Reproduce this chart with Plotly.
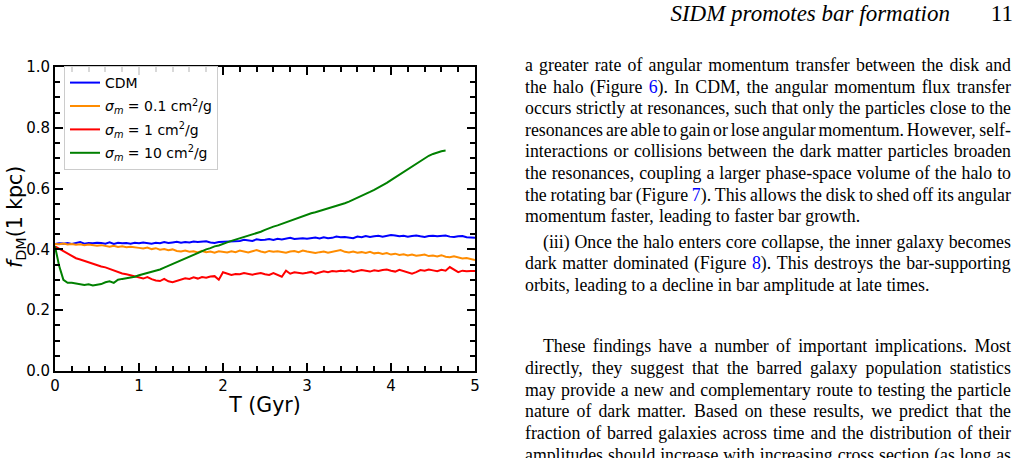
import plotly.graph_objects as go

# ---------------- data ----------------
step = 0.05
cdm = [0.418,0.420,0.419,0.421,0.418,0.422,0.424,0.419,0.421,0.420,
       0.422,0.421,0.419,0.423,0.418,0.422,0.420,0.421,0.419,0.422,
       0.420,0.423,0.421,0.419,0.422,0.420,0.424,0.421,0.423,0.425,
       0.422,0.424,0.423,0.426,0.424,0.425,0.427,0.423,0.421,0.424,
       0.425,0.427,0.426,0.429,0.428,0.432,0.430,0.428,0.433,0.431,
       0.432,0.434,0.431,0.435,0.433,0.436,0.438,0.434,0.436,0.437,
       0.435,0.437,0.439,0.436,0.440,0.437,0.438,0.442,0.440,0.441,
       0.439,0.437,0.442,0.440,0.444,0.441,0.443,0.445,0.442,0.445,
       0.447,0.446,0.443,0.445,0.442,0.444,0.446,0.443,0.441,0.444,
       0.445,0.443,0.444,0.446,0.442,0.441,0.443,0.444,0.440,0.439,
       0.438]
sig01 = [0.418,0.417,0.419,0.416,0.418,0.415,0.417,0.414,0.416,0.413,
         0.412,0.414,0.411,0.409,0.412,0.408,0.410,0.407,0.409,0.406,
         0.405,0.403,0.406,0.401,0.404,0.399,0.401,0.397,0.400,0.395,
         0.393,0.396,0.392,0.394,0.390,0.395,0.391,0.393,0.389,0.394,
         0.392,0.390,0.394,0.391,0.396,0.393,0.390,0.394,0.398,0.393,
         0.390,0.395,0.392,0.394,0.391,0.389,0.393,0.395,0.391,0.396,
         0.393,0.390,0.388,0.391,0.393,0.389,0.392,0.395,0.398,0.392,
         0.390,0.393,0.389,0.391,0.388,0.392,0.387,0.389,0.385,0.388,
         0.383,0.386,0.382,0.384,0.380,0.383,0.379,0.381,0.383,0.378,
         0.380,0.377,0.381,0.376,0.374,0.377,0.373,0.370,0.372,0.368,
         0.365]
sig1 = [0.410,0.402,0.393,0.385,0.378,0.371,0.367,0.362,0.357,0.353,
        0.348,0.344,0.341,0.336,0.330,0.325,0.321,0.318,0.314,0.310,
        0.308,0.304,0.309,0.302,0.298,0.296,0.303,0.295,0.292,0.297,
        0.300,0.305,0.303,0.308,0.304,0.309,0.307,0.311,0.312,0.300,
        0.325,0.320,0.316,0.319,0.318,0.322,0.320,0.317,0.320,0.322,
        0.318,0.316,0.322,0.315,0.310,0.330,0.320,0.325,0.324,0.321,
        0.323,0.326,0.320,0.324,0.328,0.325,0.329,0.327,0.330,0.328,
        0.331,0.326,0.329,0.332,0.330,0.327,0.331,0.329,0.332,0.334,
        0.330,0.327,0.333,0.329,0.326,0.320,0.325,0.332,0.330,0.334,
        0.331,0.328,0.333,0.330,0.342,0.333,0.325,0.330,0.328,0.329,
        0.329]
sig10 = [0.410,0.345,0.300,0.290,0.290,0.288,0.285,0.283,0.285,0.281,
         0.284,0.286,0.292,0.295,0.290,0.300,0.303,0.305,0.306,0.310,
         0.315,0.319,0.322,0.326,0.329,0.334,0.340,0.346,0.352,0.360,
         0.366,0.372,0.376,0.383,0.390,0.394,0.400,0.404,0.410,0.413,
         0.419,0.423,0.428,0.432,0.436,0.441,0.445,0.449,0.453,0.458,
         0.464,0.470,0.475,0.479,0.484,0.489,0.494,0.499,0.504,0.510,
         0.515,0.519,0.522,0.526,0.530,0.535,0.540,0.544,0.548,0.552,
         0.557,0.563,0.569,0.575,0.582,0.589,0.596,0.603,0.611,0.619,
         0.628,0.637,0.646,0.655,0.664,0.673,0.682,0.691,0.700,0.708,
         0.714,0.719,0.723,0.725]

series_names = ["CDM",
                "<i>σ<sub>m</sub></i> = 0.1 cm<sup>2</sup>/g",
                "<i>σ<sub>m</sub></i> = 1 cm<sup>2</sup>/g",
                "<i>σ<sub>m</sub></i> = 10 cm<sup>2</sup>/g"]
series_vals = [cdm, sig01, sig1, sig10]
series_colors = ["#0000ff", "#ff8c00", "#ff0000", "#008000"]

x_ticks = [0, 1, 2, 3, 4, 5]
y_ticks = [0.0, 0.2, 0.4, 0.6, 0.8, 1.0]
y_ticklabels = ["0.0", "0.2", "0.4", "0.6", "0.8", "1.0"]
x_title = "T (Gyr)"
y_title = "<i>f</i><sub>DM</sub>(1 kpc)"

# ---------------- page text ----------------
header_title = "SIDM promotes bar formation"
page_number = "11"
# (text, indented, justified)
body_lines = [
    ("a greater rate of angular momentum transfer between the disk and", False, True),
    ("the halo (Figure [6]). In CDM, the angular momentum flux transfer", False, True),
    ("occurs strictly at resonances, such that only the particles close to the", False, True),
    ("resonances are able to gain or lose angular momentum. However, self-", False, True),
    ("interactions or collisions between the dark matter particles broaden", False, True),
    ("the resonances, coupling a larger phase-space volume of the halo to", False, True),
    ("the rotating bar (Figure [7]). This allows the disk to shed off its angular", False, True),
    ("momentum faster, leading to faster bar growth.", False, False),
    ("(iii) Once the halo enters core collapse, the inner galaxy becomes", True, True),
    ("dark matter dominated (Figure [8]). This destroys the bar-supporting", False, True),
    ("orbits, leading to a decline in bar amplitude at late times.", False, False),
    ("These findings have a number of important implications. Most", True, True),
    ("directly, they suggest that the barred galaxy population statistics", False, True),
    ("may provide a new and complementary route to testing the particle", False, True),
    ("nature of dark matter. Based on these results, we predict that the", False, True),
    ("fraction of barred galaxies across time and the distribution of their", False, True),
    ("amplitudes should increase with increasing cross section (as long as", False, True),
]
body_line_y = [67, 88.5, 110, 131.5, 153, 175, 196.5, 218,
               243.5, 265, 286.5,
               348, 369.5, 391.5, 413, 435, 457]

W, H = 1018, 458
SERIF = "Liberation Serif, Times New Roman, serif"
SANS = "DejaVu Sans, sans-serif"

TW = {' ': 250, '(': 333, ')': 333, ',': 250, '.': 250, '-': 333, '/': 278,
      ':': 278, ';': 278, "'": 333,
      'A': 722, 'B': 667, 'C': 667, 'D': 722, 'E': 611, 'F': 556, 'G': 722, 'H': 722,
      'I': 333, 'J': 389, 'K': 722, 'L': 611, 'M': 889, 'N': 722, 'O': 722, 'P': 556,
      'Q': 722, 'R': 667, 'S': 556, 'T': 611, 'U': 722, 'V': 722, 'W': 944, 'X': 722,
      'Y': 722, 'Z': 611,
      'a': 444, 'b': 500, 'c': 444, 'd': 500, 'e': 444, 'f': 333, 'g': 500, 'h': 500,
      'i': 278, 'j': 278, 'k': 500, 'l': 278, 'm': 778, 'n': 500, 'o': 500, 'p': 500,
      'q': 500, 'r': 333, 's': 389, 't': 278, 'u': 500, 'v': 500, 'w': 722, 'x': 500,
      'y': 500, 'z': 444}
for d in "0123456789":
    TW[d] = 500

BODY_FS = 17.8
X_LEFT, X_INDENT, X_RIGHT = 525, 543, 1011


def width(s, fs):
    return sum(TW.get(c, 500) for c in s) * fs / 1000.0


def markup(word):
    return word.replace("[", "<span style='color:#0000ff'>").replace("]", "</span>")


word_x, word_y, word_text = [], [], []
for (text, indented, justify), ypx in zip(body_lines, body_line_y):
    words = text.split(" ")
    plain = [w.replace("[", "").replace("]", "") for w in words]
    widths = [width(p, BODY_FS) for p in plain]
    x0 = X_INDENT if indented else X_LEFT
    if justify and len(words) > 1:
        gap = (X_RIGHT - x0 - sum(widths)) / (len(words) - 1)
    else:
        gap = 0.25 * BODY_FS
    x = x0
    for w, wd in zip(words, widths):
        word_x.append(x)
        word_y.append(ypx)
        word_text.append(markup(w))
        x += wd + gap

# ---------------- figure ----------------
fig = go.Figure()
for i, (name, vals, col) in enumerate(zip(series_names, series_vals, series_colors)):
    t = [round(k * step, 2) for k in range(len(vals))]
    fig.add_trace(go.Scatter(x=t, y=vals, mode="lines", name=name,
                             legendgroup="g%d" % i,
                             line=dict(color=col, width=2)))

# page text on a hidden full-page pixel axis
fig.add_trace(go.Scatter(x=word_x, y=word_y, text=word_text, mode="text",
                         textposition="middle right", cliponaxis=False,
                         textfont=dict(family=SERIF, size=BODY_FS, color="black"),
                         xaxis="x2", yaxis="y2", showlegend=False, hoverinfo="skip"))
fig.add_trace(go.Scatter(x=[950, 1013], y=[15, 15],
                         text=["<i>" + header_title + "</i>", page_number],
                         mode="text", textposition="middle left", cliponaxis=False,
                         textfont=dict(family=SERIF, size=23, color="black"),
                         xaxis="x2", yaxis="y2", showlegend=False, hoverinfo="skip"))

axis_common = dict(showgrid=False, zeroline=False, showline=True, linecolor="black",
                   linewidth=2, mirror="allticks", ticks="inside", ticklen=8,
                   tickwidth=1.5, tickcolor="black", automargin=False,
                   tickfont=dict(family=SANS, size=15, color="black"))

fig.update_layout(
    width=W, height=H,
    margin=dict(l=0, r=0, t=0, b=0, pad=0, autoexpand=False),
    paper_bgcolor="white", plot_bgcolor="rgba(0,0,0,0)",
    xaxis=dict(domain=[55 / W, 475 / W], range=[0, 5], tickvals=x_ticks,
               minor=dict(ticks="inside", ticklen=5, tickwidth=1.5, dtick=0.2,
                          tickcolor="black"),
               title=dict(text=x_title, font=dict(family=SANS, size=20.5, color="black"),
                          standoff=4),
               **axis_common),
    yaxis=dict(domain=[1 - 371 / H, 1 - 67 / H], range=[0, 1], tickvals=y_ticks,
               ticktext=y_ticklabels,
               minor=dict(ticks="inside", ticklen=5, tickwidth=1.5, dtick=0.05,
                          tickcolor="black"),
               **axis_common),
    xaxis2=dict(domain=[0, 1], range=[0, W], visible=False, anchor="y2",
                fixedrange=True, automargin=False),
    yaxis2=dict(domain=[0, 1], range=[H, 0], visible=False, anchor="x2",
                fixedrange=True, automargin=False),
    legend=dict(x=64 / W, y=1 - 66 / H, xanchor="left", yanchor="top",
                tracegroupgap=2.2,
                bordercolor="#cccccc", borderwidth=1, bgcolor="rgba(255,255,255,0.85)",
                font=dict(family=SANS, size=14, color="black")),
    annotations=[dict(x=16 / W, y=1 - 217 / H, xref="paper", yref="paper",
                      xanchor="center", yanchor="middle", showarrow=False,
                      textangle=-90, text=y_title,
                      font=dict(family=SANS, size=20.5, color="black"))],
    showlegend=True,
)

fig.write_html("out.html")
